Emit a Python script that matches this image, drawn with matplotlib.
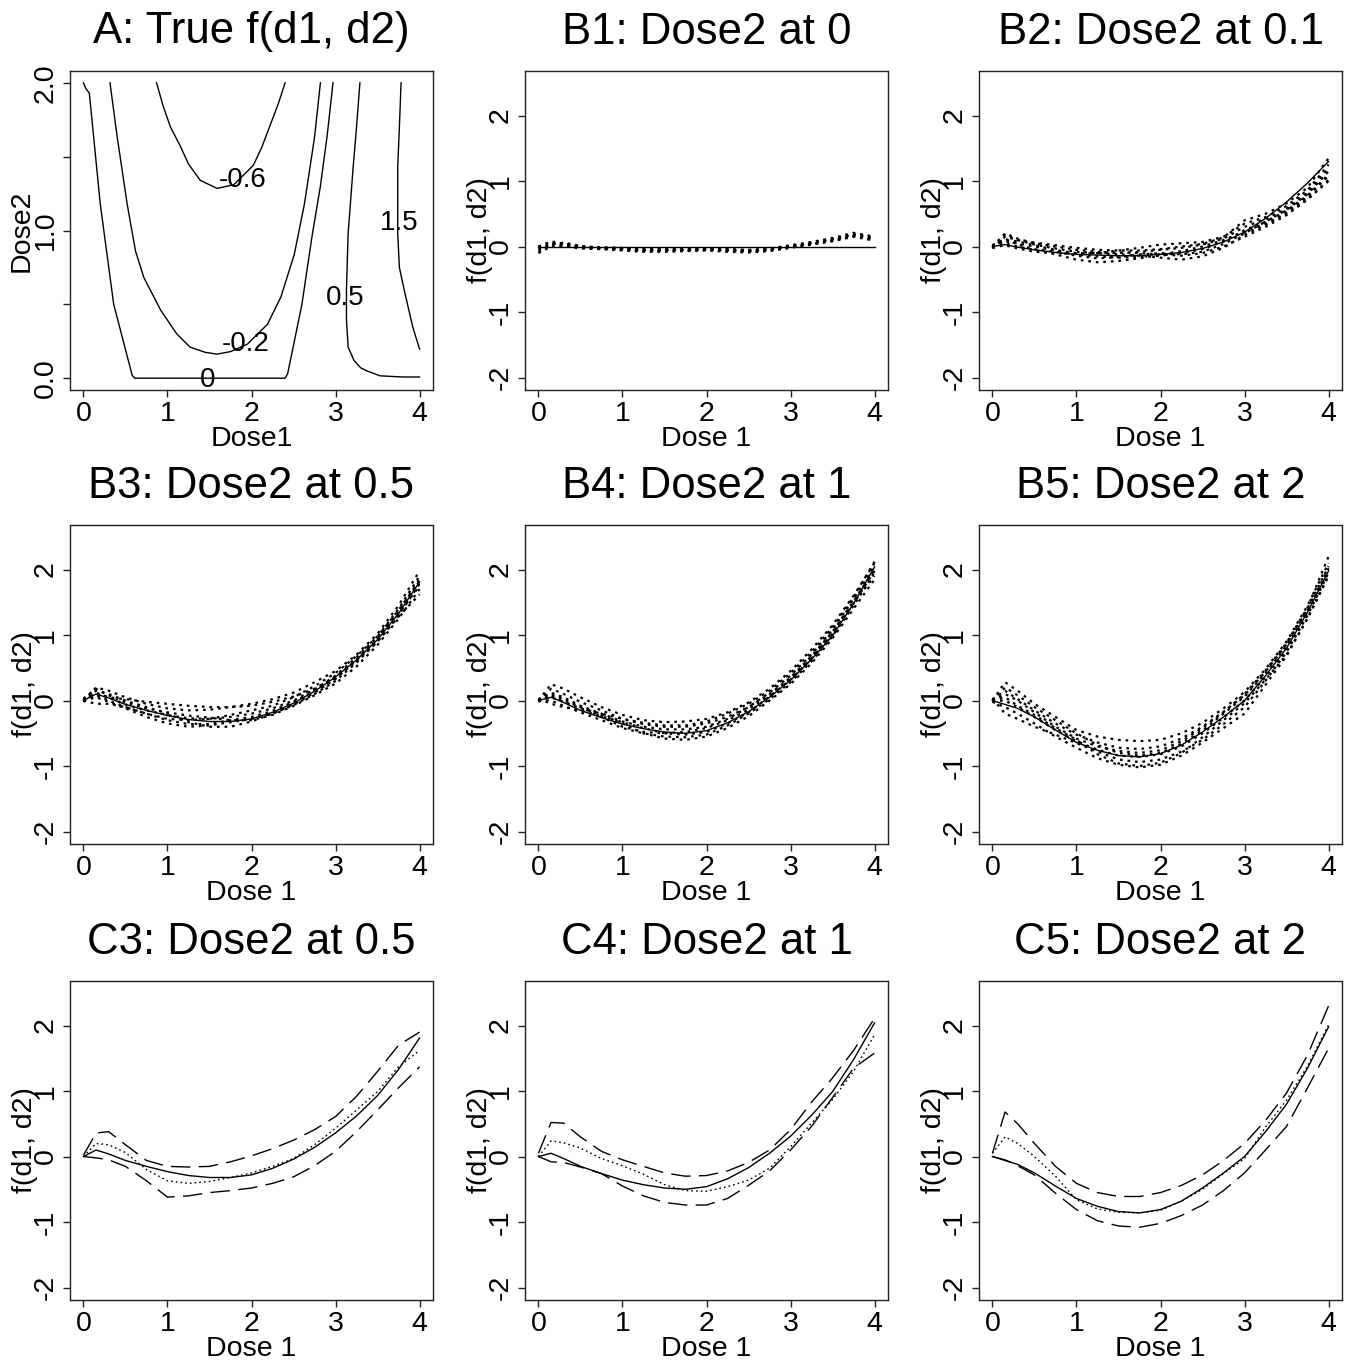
import numpy as np
import matplotlib.pyplot as plt

plt.rcParams['font.family'] = ['Liberation Sans', 'DejaVu Sans']

# ---- panel A: contour lines of the true surface ----
c0_x = [0.0, 0.03, 0.07, 0.2, 0.36, 0.58, 0.61, 2.4, 2.43, 2.6, 2.72, 2.82, 2.9, 2.97]
c0_y = [2.0, 1.96, 1.93, 1.18, 0.5, 0.02, 0.0, 0.0, 0.03, 0.5, 0.96, 1.3, 1.64, 2.0]
cm02_x = [0.316, 0.40, 0.52, 0.62, 0.72, 0.92, 1.11, 1.27, 1.45, 1.59, 1.75, 1.95, 2.19, 2.35, 2.51, 2.63, 2.75, 2.82]
cm02_y = [2.0, 1.64, 1.18, 0.86, 0.68, 0.46, 0.30, 0.21, 0.175, 0.163, 0.18, 0.23, 0.365, 0.55, 0.84, 1.18, 1.63, 2.0]
cm06_x = [0.87, 0.95, 1.036, 1.154, 1.25, 1.39, 1.59, 1.79, 2.02, 2.12, 2.22, 2.32, 2.40]
cm06_y = [2.0, 1.84, 1.70, 1.57, 1.45, 1.34, 1.285, 1.31, 1.44, 1.56, 1.71, 1.86, 2.0]
c05_x = [3.29, 3.25, 3.21, 3.15, 3.13, 3.13, 3.15, 3.22, 3.3, 3.37, 3.53, 3.8, 4.0]
c05_y = [2.0, 1.7, 1.43, 0.98, 0.6, 0.4, 0.21, 0.12, 0.07, 0.05, 0.016, 0.008, 0.008]
c15_x = [3.78, 3.76, 3.74, 3.74, 3.76, 3.82, 3.92, 4.0]
c15_y = [2.0, 1.7, 1.43, 0.98, 0.75, 0.59, 0.345, 0.197]
contour_labels = ['0', '-0.2', '-0.6', '0.5', '1.5']
label_x = [1.48, 1.93, 1.89, 3.12, 3.76]
label_y = [-0.01, 0.23, 1.34, 0.54, 1.05]

# ---- panels B and C: curves over Dose 1 ----
dose1 = [0, 0.15, 0.3, 0.5, 0.75, 1.0, 1.25, 1.5, 1.75, 2.0, 2.25, 2.5, 2.75, 3.0, 3.25, 3.5, 3.75, 4.0]

true_b1 = [0] * 18
true_b2 = [0, 0.03, -0.01, -0.05, -0.09, -0.12, -0.13, -0.14, -0.14, -0.12, -0.09, -0.03, 0.07, 0.22, 0.43, 0.68, 0.97, 1.3]
true_b3 = [0, 0.1, 0.04, -0.06, -0.15, -0.23, -0.29, -0.32, -0.32, -0.28, -0.18, -0.04, 0.14, 0.36, 0.62, 0.93, 1.33, 1.81]
true_b4 = [0, 0.05, -0.03, -0.15, -0.26, -0.36, -0.43, -0.48, -0.5, -0.46, -0.34, -0.17, 0.05, 0.31, 0.63, 0.99, 1.48, 2.04]
true_b5 = [0, -0.06, -0.12, -0.25, -0.45, -0.64, -0.76, -0.84, -0.86, -0.81, -0.68, -0.48, -0.25, 0.0, 0.38, 0.8, 1.35, 1.98]

reps_b1 = [
    [-0.05, 0.04, 0.05, 0.0, -0.02, -0.03, -0.04, -0.05, -0.04, -0.03, -0.04, -0.06, -0.04, 0.0, 0.04, 0.1, 0.17, 0.12],
    [0.0, 0.06, 0.03, -0.01, -0.03, -0.04, -0.06, -0.06, -0.05, -0.04, -0.06, -0.07, -0.05, 0.01, 0.06, 0.12, 0.19, 0.14],
    [-0.08, 0.02, 0.02, -0.02, -0.03, -0.05, -0.07, -0.07, -0.06, -0.05, -0.07, -0.08, -0.06, -0.01, 0.04, 0.09, 0.16, 0.1],
    [0.0, 0.08, 0.04, 0.0, -0.01, -0.02, -0.03, -0.04, -0.03, -0.03, -0.04, -0.05, -0.03, 0.02, 0.07, 0.13, 0.21, 0.15],
    [-0.03, 0.03, 0.06, 0.01, -0.02, -0.03, -0.05, -0.05, -0.05, -0.05, -0.05, -0.06, -0.04, 0.0, 0.05, 0.11, 0.18, 0.11],
    [-0.1, 0.0, 0.01, -0.03, -0.04, -0.06, -0.08, -0.08, -0.07, -0.06, -0.08, -0.09, -0.07, -0.02, 0.03, 0.08, 0.15, 0.09],
]
reps_b2 = [
    [0.0, 0.2, 0.12, 0.05, 0.0, -0.05, -0.08, -0.1, -0.08, -0.05, -0.02, 0.03, 0.12, 0.3, 0.42, 0.58, 0.82, 1.2],
    [0.02, 0.1, 0.08, 0.02, -0.05, -0.12, -0.15, -0.17, -0.16, -0.14, -0.1, -0.04, 0.08, 0.25, 0.38, 0.55, 0.78, 1.1],
    [0.0, 0.05, 0.0, -0.05, -0.12, -0.2, -0.24, -0.22, -0.18, -0.12, -0.07, 0.0, 0.1, 0.22, 0.35, 0.5, 0.72, 1.02],
    [-0.03, 0.15, 0.1, 0.03, -0.03, -0.08, -0.1, -0.12, -0.14, -0.17, -0.2, -0.15, -0.02, 0.18, 0.33, 0.52, 0.76, 1.08],
    [0.0, 0.08, 0.05, 0.0, -0.06, -0.1, -0.1, -0.06, -0.02, 0.03, 0.05, 0.07, 0.15, 0.35, 0.45, 0.62, 0.86, 1.25],
    [0.02, 0.12, 0.03, -0.04, -0.08, -0.14, -0.18, -0.16, -0.12, -0.1, -0.12, -0.08, 0.04, 0.2, 0.38, 0.56, 0.8, 1.15],
    [-0.02, 0.02, -0.03, -0.08, -0.1, -0.11, -0.1, -0.09, -0.1, -0.12, -0.14, -0.1, 0.0, 0.15, 0.3, 0.48, 0.72, 1.0],
    [0.0, 0.18, 0.1, 0.06, 0.02, -0.02, -0.05, -0.06, -0.06, -0.04, 0.0, 0.04, 0.14, 0.4, 0.5, 0.66, 0.9, 1.35],
]
reps_b3 = [
    [0.0, 0.2, 0.15, 0.05, -0.05, -0.12, -0.15, -0.14, -0.1, -0.05, 0.02, 0.12, 0.28, 0.45, 0.7, 1.02, 1.45, 1.98],
    [0.02, 0.12, 0.05, -0.06, -0.15, -0.22, -0.27, -0.28, -0.25, -0.2, -0.12, 0.0, 0.17, 0.38, 0.66, 0.98, 1.4, 1.9],
    [0.0, 0.05, -0.02, -0.12, -0.25, -0.35, -0.4, -0.38, -0.33, -0.28, -0.2, -0.07, 0.1, 0.3, 0.58, 0.9, 1.3, 1.78],
    [-0.02, 0.15, 0.1, 0.0, -0.1, -0.2, -0.33, -0.4, -0.4, -0.32, -0.2, -0.06, 0.12, 0.33, 0.62, 0.95, 1.36, 1.85],
    [0.0, -0.05, -0.05, -0.1, -0.2, -0.28, -0.3, -0.28, -0.22, -0.15, -0.08, 0.05, 0.22, 0.42, 0.68, 0.98, 1.38, 1.82],
    [0.03, 0.18, 0.08, -0.03, -0.12, -0.18, -0.23, -0.26, -0.3, -0.3, -0.22, -0.08, 0.08, 0.26, 0.52, 0.85, 1.25, 1.7],
    [0.0, 0.1, 0.05, 0.02, -0.02, -0.05, -0.08, -0.1, -0.1, -0.08, -0.02, 0.06, 0.18, 0.36, 0.62, 0.94, 1.32, 1.75],
    [0.0, 0.08, 0.0, -0.1, -0.2, -0.3, -0.36, -0.36, -0.3, -0.25, -0.16, -0.02, 0.15, 0.34, 0.6, 0.9, 1.28, 1.62],
]
reps_b4 = [
    [0.0, 0.25, 0.18, 0.05, -0.1, -0.22, -0.3, -0.33, -0.32, -0.28, -0.18, -0.03, 0.18, 0.45, 0.78, 1.15, 1.6, 2.1],
    [0.02, 0.12, 0.05, -0.08, -0.2, -0.32, -0.4, -0.44, -0.44, -0.4, -0.28, -0.1, 0.12, 0.38, 0.7, 1.08, 1.55, 2.05],
    [0.0, 0.0, -0.08, -0.18, -0.3, -0.42, -0.5, -0.55, -0.56, -0.52, -0.38, -0.2, 0.02, 0.28, 0.6, 0.98, 1.45, 1.95],
    [-0.02, 0.08, 0.0, -0.1, -0.22, -0.35, -0.5, -0.58, -0.6, -0.55, -0.42, -0.24, 0.0, 0.25, 0.57, 0.95, 1.4, 1.85],
    [0.0, 0.18, 0.1, -0.02, -0.15, -0.28, -0.36, -0.4, -0.4, -0.35, -0.25, -0.1, 0.1, 0.35, 0.68, 1.05, 1.52, 2.0],
    [0.03, -0.05, -0.1, -0.15, -0.24, -0.33, -0.42, -0.5, -0.52, -0.48, -0.35, -0.18, 0.06, 0.32, 0.64, 1.02, 1.48, 1.98],
    [0.0, 0.1, 0.02, -0.1, -0.25, -0.4, -0.48, -0.5, -0.48, -0.42, -0.3, -0.14, 0.08, 0.34, 0.66, 1.04, 1.5, 1.9],
    [0.0, 0.05, -0.02, -0.12, -0.2, -0.28, -0.34, -0.38, -0.38, -0.32, -0.2, -0.05, 0.15, 0.42, 0.74, 1.12, 1.58, 2.12],
]
reps_b5 = [
    [0.0, 0.28, 0.15, -0.05, -0.25, -0.45, -0.55, -0.6, -0.62, -0.6, -0.5, -0.34, -0.12, 0.13, 0.48, 0.9, 1.45, 2.1],
    [0.02, 0.15, 0.02, -0.15, -0.35, -0.52, -0.64, -0.72, -0.74, -0.7, -0.58, -0.4, -0.17, 0.08, 0.44, 0.86, 1.4, 2.05],
    [0.0, 0.0, -0.1, -0.25, -0.45, -0.62, -0.75, -0.84, -0.86, -0.82, -0.7, -0.5, -0.26, 0.0, 0.36, 0.78, 1.32, 1.98],
    [-0.02, -0.1, -0.2, -0.35, -0.55, -0.72, -0.88, -0.98, -1.02, -0.98, -0.84, -0.64, -0.42, -0.2, 0.24, 0.68, 1.26, 1.92],
    [0.0, 0.2, 0.08, -0.1, -0.3, -0.5, -0.68, -0.8, -0.84, -0.8, -0.66, -0.46, -0.2, 0.06, 0.42, 0.84, 1.38, 2.02],
    [0.03, -0.2, -0.28, -0.4, -0.52, -0.65, -0.78, -0.9, -0.94, -0.9, -0.78, -0.6, -0.36, -0.1, 0.3, 0.74, 1.3, 1.95],
    [0.0, 0.1, 0.0, -0.18, -0.4, -0.58, -0.7, -0.77, -0.8, -0.76, -0.62, -0.42, -0.18, 0.1, 0.46, 0.88, 1.42, 2.2],
    [0.0, 0.05, -0.08, -0.22, -0.42, -0.6, -0.82, -0.96, -1.0, -0.95, -0.8, -0.56, -0.3, -0.04, 0.32, 0.7, 1.25, 1.9],
]

# C panels: mean estimate (dotted) and pointwise band (dashed)
mean_c3 = [0, 0.2, 0.18, 0.06, -0.2, -0.37, -0.41, -0.38, -0.32, -0.25, -0.15, -0.03, 0.18, 0.43, 0.71, 0.99, 1.37, 1.62]
upper_c3 = [0.02, 0.36, 0.38, 0.18, -0.06, -0.15, -0.16, -0.15, -0.08, 0.01, 0.12, 0.25, 0.41, 0.61, 0.92, 1.3, 1.7, 1.9]
lower_c3 = [0, -0.02, -0.05, -0.15, -0.37, -0.62, -0.6, -0.55, -0.52, -0.48, -0.41, -0.31, -0.14, 0.08, 0.38, 0.71, 1.05, 1.37]
mean_c4 = [0, 0.24, 0.21, 0.13, -0.03, -0.14, -0.27, -0.43, -0.52, -0.53, -0.46, -0.36, -0.18, 0.15, 0.51, 0.87, 1.3, 1.86]
upper_c4 = [0.05, 0.52, 0.51, 0.3, 0.08, -0.05, -0.15, -0.25, -0.3, -0.29, -0.22, -0.09, 0.1, 0.41, 0.83, 1.2, 1.62, 2.11]
lower_c4 = [0, -0.08, -0.09, -0.16, -0.26, -0.45, -0.6, -0.7, -0.74, -0.74, -0.64, -0.44, -0.22, 0.1, 0.46, 0.9, 1.35, 1.58]
mean_c5 = [0.05, 0.3, 0.2, 0.0, -0.3, -0.66, -0.8, -0.85, -0.86, -0.82, -0.68, -0.5, -0.26, -0.03, 0.45, 0.86, 1.38, 2.01]
upper_c5 = [0.05, 0.68, 0.5, 0.2, -0.15, -0.41, -0.55, -0.61, -0.61, -0.55, -0.44, -0.28, -0.06, 0.2, 0.55, 0.97, 1.55, 2.3]
lower_c5 = [0, -0.05, -0.14, -0.28, -0.56, -0.81, -0.98, -1.06, -1.08, -1.02, -0.9, -0.74, -0.52, -0.25, 0.1, 0.46, 1.05, 1.65]

titles = ['A: True f(d1, d2)', 'B1: Dose2 at 0', 'B2: Dose2 at 0.1',
          'B3: Dose2 at 0.5', 'B4: Dose2 at 1', 'B5: Dose2 at 2',
          'C3: Dose2 at 0.5', 'C4: Dose2 at 1', 'C5: Dose2 at 2']

W, H = 1351, 1363
fig = plt.figure(figsize=(W / 100, H / 100), dpi=100)
lefts = [70, 525, 979]
tops = [71, 525, 981]
aw, ah = 363, 319

FS = 20.5
dotted = (0, (1.2, 2.2))
dashed = (0, (14, 6))


def make_ax(r, c):
    ax = fig.add_axes([lefts[c] / W, 1 - (tops[r] + ah) / H, aw / W, ah / H])
    for s in ax.spines.values():
        s.set_linewidth(1.0)
        s.set_color('#222222')
    ax.tick_params(length=5, width=1.0, color='#222222', labelsize=FS, pad=3)
    ax.set_xlim(-0.16, 4.16)
    ax.set_xticks([0, 1, 2, 3, 4])
    ax.set_xticklabels(['0', '1', '2', '3', '4'])
    ax.text(0.5, 1 + 39 / ah, titles[3 * r + c], transform=ax.transAxes,
            ha='center', va='center', fontsize=31.5)
    return ax


def curve_axes(ax):
    ax.set_ylim(-2.19, 2.68)
    ax.set_yticks([-2, -1, 0, 1, 2])
    ax.set_yticklabels(['-2', '-1', '0', '1', '2'], rotation=90, va='center')
    ax.set_xlabel('Dose 1', fontsize=FS, va='center')
    ax.xaxis.set_label_coords(0.5, -49 / ah)
    ax.set_ylabel('f(d1, d2)', fontsize=FS, va='center')
    ax.yaxis.set_label_coords(-45 / aw, 0.5)


# panel A
ax = make_ax(0, 0)
ax.set_ylim(-0.08, 2.08)
ax.set_yticks([0, 0.5, 1.0, 1.5, 2.0])
ax.set_yticklabels(['0.0', '', '1.0', '', '2.0'], rotation=90, va='center')
for cx, cy in [(c0_x, c0_y), (cm02_x, cm02_y), (cm06_x, cm06_y), (c05_x, c05_y), (c15_x, c15_y)]:
    ax.plot(cx, cy, color='black', lw=1.0)
for t, lx, ly in zip(contour_labels, label_x, label_y):
    ax.text(lx, ly, t, ha='center', va='center', fontsize=20)
ax.set_xlabel('Dose1', fontsize=FS, va='center')
ax.xaxis.set_label_coords(0.5, -49 / ah)
ax.set_ylabel('Dose2', fontsize=FS, va='center')
ax.yaxis.set_label_coords(-48 / aw, 0.5)

# B panels
b_true = [true_b1, true_b2, true_b3, true_b4, true_b5]
b_reps = [reps_b1, reps_b2, reps_b3, reps_b4, reps_b5]
b_pos = [(0, 1), (0, 2), (1, 0), (1, 1), (1, 2)]
for (r, c), tr, reps in zip(b_pos, b_true, b_reps):
    ax = make_ax(r, c)
    curve_axes(ax)
    for rep in reps:
        ax.plot(dose1, rep, color='black', lw=1.6, ls=dotted)
    ax.plot(dose1, tr, color='black', lw=1.0)

# C panels
c_sets = [(true_b3, mean_c3, upper_c3, lower_c3),
          (true_b4, mean_c4, upper_c4, lower_c4),
          (true_b5, mean_c5, upper_c5, lower_c5)]
for c, (tr, mn, up, lo) in enumerate(c_sets):
    ax = make_ax(2, c)
    curve_axes(ax)
    ax.plot(dose1, tr, color='black', lw=1.0)
    ax.plot(dose1, mn, color='black', lw=1.0, ls=dotted)
    ax.plot(dose1, up, color='black', lw=1.0, ls=dashed)
    ax.plot(dose1, lo, color='black', lw=1.0, ls=dashed)

fig.savefig('out.png', dpi=100)
